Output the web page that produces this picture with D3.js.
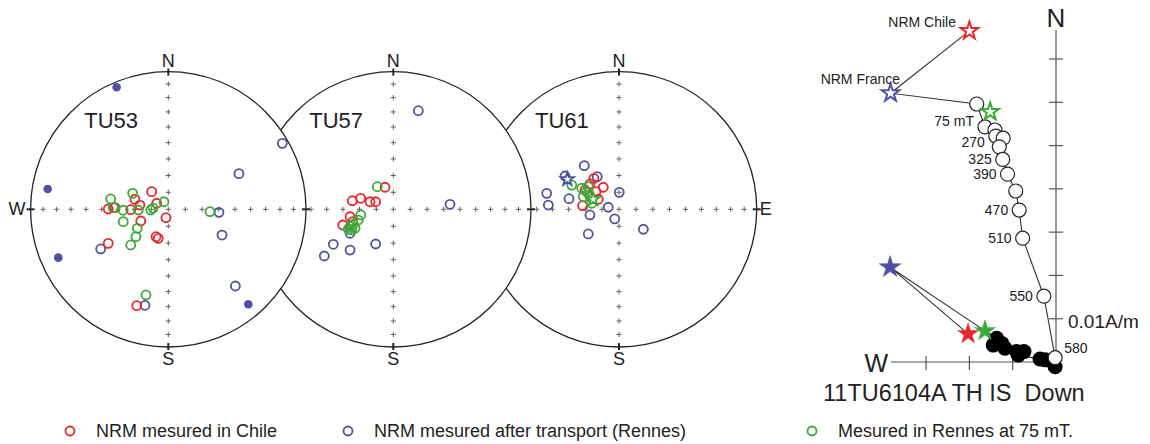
<!DOCTYPE html>
<html>
<head>
<meta charset="utf-8">
<script src="https://cdn.jsdelivr.net/npm/d3@7"></script>
<style>
body { margin: 0; background: #fff; }
svg { display: block; font-family: Arial, "Liberation Sans", sans-serif; }
</style>
</head>
<body>
<svg id="chart" width="1150" height="444"></svg>
<script>
// ---- stereonet data: equal-area projected positions, in units of the net radius (x = east, y = north)
const sites = ['TU53', 'TU57', 'TU61']

const chile53 = [[-0.436, 0.002], [-0.387, 0.012], [-0.273, -0.003], [-0.242, 0.073], [-0.206, 0.031],
  [-0.121, 0.128], [-0.084, 0.044], [-0.017, -0.061], [-0.200, -0.085], [-0.089, -0.199],
  [-0.073, -0.211], [-0.436, -0.247], [-0.229, -0.700]]
const rennes53 = [[0.828, 0.479], [0.513, 0.259], [0.368, -0.022], [0.390, -0.187], [-0.491, -0.288],
  [0.487, -0.557], [-0.169, -0.697]]
const rennes53Down = [[-0.375, 0.886], [-0.876, 0.147], [-0.799, -0.351], [0.581, -0.690]]
const at75mT53 = [[-0.418, 0.075], [-0.399, 0.012], [-0.327, -0.007], [-0.259, 0.116], [-0.218, -0.005],
  [-0.128, -0.005], [-0.111, 0.009], [-0.031, 0.055], [-0.327, -0.090], [-0.225, -0.138],
  [-0.235, -0.199], [-0.273, -0.259], [-0.162, -0.622], [0.303, -0.017]]

const chile57 = [[-0.060, 0.160], [-0.298, 0.062], [-0.237, 0.080], [-0.169, 0.055], [-0.128, 0.055],
  [-0.314, -0.054], [-0.367, -0.114], [-0.295, -0.090]]
const rennes57 = [[0.182, 0.716], [0.412, 0.036], [-0.436, -0.254], [-0.501, -0.339], [-0.314, -0.296],
  [-0.128, -0.252], [-0.314, -0.174]]
const at75mT57 = [[-0.116, 0.164], [-0.237, -0.041], [-0.254, -0.078], [-0.290, -0.107], [-0.327, -0.145],
  [-0.302, -0.150], [-0.278, -0.138], [-0.314, -0.126]]

const chile61 = [[-0.211, 0.184], [-0.114, 0.160], [-0.182, 0.225], [-0.264, 0.026], [-0.150, 0.073],
  [-0.247, 0.140], [-0.167, 0.128]]
const rennes61 = [[-0.252, 0.317], [-0.525, 0.116], [-0.513, 0.031], [-0.363, 0.077], [-0.158, 0.237],
  [0.002, 0.123], [-0.078, 0.015], [-0.211, -0.041], [-0.031, -0.070], [-0.223, -0.179],
  [0.177, -0.145], [-0.392, 0.242]]
const at75mT61 = [[-0.271, 0.153], [-0.235, 0.128], [-0.259, 0.092], [-0.211, 0.092], [-0.223, 0.164],
  [-0.343, 0.176], [-0.198, 0.044]]
// mean directions of specimen 11TU6104A shown as stars on TU61
const starRennes61 = [-0.375, 0.218]
const star75mT61 = [-0.187, 0.073]

// inclination rings marked by crosses on the axes
const incTicks = [10, 20, 30, 40, 50, 60, 70, 80, 90]

// ---- Zijderveld data (units of 0.01 A/m), x = W-E (negative = W), y = N / Up
const vertSteps = [[-1.83, 5.96], [-1.64, 5.43], [-1.41, 5.36], [-1.39, 5.22], [-1.22, 5.17], [-1.31, 4.97],
  [-1.23, 4.68], [-1.12, 4.34], [-0.93, 3.95], [-0.85, 3.51], [-0.77, 2.86], [-0.28, 1.52], [-0.02, 0.10]]
const stepLabels = ['', '75 mT', '', '270', '', '', '325', '390', '', '470', '510', '550', '580']
const horizSteps = [[-1.37, 0.55], [-1.25, 0.43], [-1.45, 0.39], [-1.18, 0.32], [-0.91, 0.24], [-0.74, 0.24],
  [-0.87, 0.16], [-0.37, 0.07], [-0.25, 0.05], [-0.06, -0.02], [-0.02, -0.11]]
const nrmChileV = [-2.00, 7.65]
const nrmFranceV = [-3.82, 6.21]
const at75mTV = [-1.52, 5.78]
const nrmFranceH = [-3.83, 2.19]
const nrmChileH = [-2.03, 0.65]
const at75mTH = [-1.64, 0.72]
const zTicksX = [-1, -2, -3]
const zTicksY = [1, 2, 3, 4, 5, 6, 7]

const legendItems = ['NRM mesured in Chile', 'NRM mesured after transport (Rennes)', 'Mesured in Rennes at 75 mT.']

const RED = '#e8262b', BLUE = '#51519f', GREEN = '#3aa935'

// vertical nudges (px) for step labels that sit crowded together
const labelNudge = { '75 mT': -6, '270': 6, '580': -10 }

const svg = d3.select('#chart')

const R = 137.7
const netCenters = [168.3, 393.3, 619]
const netCy = 209.3

const netData = [
  { chile: chile53, rennes: rennes53, down: rennes53Down, at75: at75mT53, stars: [] },
  { chile: chile57, rennes: rennes57, down: [], at75: at75mT57, stars: [] },
  { chile: chile61, rennes: rennes61, down: [], at75: at75mT61,
    stars: [[starRennes61, BLUE], [star75mT61, GREEN]] }
]

const eqArea = inc => Math.SQRT2 * Math.sin((90 - inc) / 2 * Math.PI / 180)

const drawNet = function (i) {
  const cx = netCenters[i]
  const x = d3.scaleLinear().domain([-1, 1]).range([cx - R, cx + R])
  const y = d3.scaleLinear().domain([-1, 1]).range([netCy + R, netCy - R])
  const g = svg.append('g')

  g.append('circle').attr('cx', cx).attr('cy', netCy).attr('r', R)
    .attr('fill', '#fff').attr('stroke', '#222').attr('stroke-width', 1.3)

  // crosses along both axes
  const crossPts = []
  incTicks.forEach(inc => {
    const r = eqArea(inc)
    if (r < 0.001) { crossPts.push([0, 0]); return }
    crossPts.push([0, r], [0, -r], [r, 0], [-r, 0])
  })
  const cs = 2.6
  g.append('g').selectAll('path').data(crossPts).join('path')
    .attr('d', d => `M${x(d[0]) - cs},${y(d[1])}h${2 * cs}M${x(d[0])},${y(d[1]) - cs}v${2 * cs}`)
    .attr('stroke', '#555').attr('stroke-width', 0.9)

  // cardinal ticks
  const tk = g.append('g').attr('stroke', '#222').attr('stroke-width', 2)
  tk.append('line').attr('x1', cx).attr('x2', cx).attr('y1', netCy - R - 3).attr('y2', netCy - R + 4)
  tk.append('line').attr('x1', cx).attr('x2', cx).attr('y1', netCy + R + 3).attr('y2', netCy + R - 4)
  tk.append('line').attr('y1', netCy).attr('y2', netCy).attr('x1', cx - R - 4).attr('x2', cx - R + 4)
  tk.append('line').attr('y1', netCy).attr('y2', netCy).attr('x1', cx + R + 4).attr('x2', cx + R - 4)

  g.append('text').attr('x', cx).attr('y', netCy - R - 5).attr('text-anchor', 'middle')
    .attr('font-size', 18).attr('fill', '#222').text('N')
  g.append('text').attr('x', cx).attr('y', netCy + R + 18).attr('text-anchor', 'middle')
    .attr('font-size', 18).attr('fill', '#222').text('S')
  if (i === 0) {
    g.append('text').attr('x', cx - R - 5).attr('y', netCy + 6).attr('text-anchor', 'end')
      .attr('font-size', 18).attr('fill', '#222').text('W')
  }
  if (i === 2) {
    g.append('text').attr('x', cx + R + 3).attr('y', netCy + 6)
      .attr('font-size', 18).attr('fill', '#222').text('E')
  }
  g.append('text').attr('x', cx - 84).attr('y', netCy - 81)
    .attr('font-size', 22).attr('fill', '#222').text(sites[i])

  const d = netData[i]
  const openDots = (arr, color) => {
    g.append('g').selectAll('circle').data(arr).join('circle')
      .attr('cx', p => x(p[0])).attr('cy', p => y(p[1])).attr('r', 4.5)
      .attr('fill', 'none').attr('stroke', color).attr('stroke-width', 1.8)
  }
  openDots(d.rennes, BLUE)
  g.append('g').selectAll('circle').data(d.down).join('circle')
    .attr('cx', p => x(p[0])).attr('cy', p => y(p[1])).attr('r', 4.3)
    .attr('fill', BLUE)
  openDots(d.chile, RED)
  openDots(d.at75, GREEN)

  d.stars.forEach(([p, color]) => {
    g.append('path').attr('d', d3.symbol(d3.symbolStar, 55)())
      .attr('transform', `translate(${x(p[0])},${y(p[1])})`)
      .attr('fill', '#fff').attr('stroke', color).attr('stroke-width', 1.8)
  })
}

// right-hand nets first so the left ones overlap them
drawNet(2)
drawNet(1)
drawNet(0)

// ---- Zijderveld diagram
const zx = d3.scaleLinear().domain([-3.81, 0]).range([891, 1056])
const zy = d3.scaleLinear().domain([0, 7.67]).range([362, 30])
const zg = svg.append('g')

zg.append('line').attr('x1', zx(0)).attr('x2', zx(0)).attr('y1', zy(0)).attr('y2', zy(7.67))
  .attr('stroke', '#555').attr('stroke-width', 1.2)
zg.append('line').attr('x1', zx(-3.81)).attr('x2', zx(0)).attr('y1', zy(0)).attr('y2', zy(0))
  .attr('stroke', '#555').attr('stroke-width', 1.2)
zg.append('g').selectAll('line').data(zTicksY).join('line')
  .attr('x1', zx(0) - 7).attr('x2', zx(0) + 7).attr('y1', d => zy(d)).attr('y2', d => zy(d))
  .attr('stroke', '#555').attr('stroke-width', 1.2)
zg.append('g').selectAll('line').data(zTicksX).join('line')
  .attr('y1', zy(0) - 6).attr('y2', zy(0) + 8).attr('x1', d => zx(d)).attr('x2', d => zx(d))
  .attr('stroke', '#555').attr('stroke-width', 1.2)

zg.append('text').attr('x', zx(0)).attr('y', 27).attr('text-anchor', 'middle')
  .attr('font-size', 26).attr('fill', '#222').text('N')
zg.append('text').attr('x', 888).attr('y', 372).attr('text-anchor', 'end')
  .attr('font-size', 25).attr('fill', '#222').text('W')
zg.append('text').attr('x', 1068).attr('y', 328)
  .attr('font-size', 19).attr('fill', '#222').text('0.01A/m')
zg.append('text').attr('x', 823).attr('y', 401).attr('xml:space', 'preserve')
  .attr('font-size', 23.5).attr('fill', '#222').text('11TU6104A TH IS  Down')

const line = d3.line().x(d => zx(d[0])).y(d => zy(d[1]))
zg.append('path').attr('d', line([nrmChileV, nrmFranceV].concat(vertSteps)))
  .attr('fill', 'none').attr('stroke', '#333').attr('stroke-width', 1.1)
zg.append('path').attr('d', line([nrmChileH, nrmFranceH, at75mTH]))
  .attr('fill', 'none').attr('stroke', '#333').attr('stroke-width', 1.1)
zg.append('path').attr('d', line([at75mTH].concat(horizSteps)))
  .attr('fill', 'none').attr('stroke', '#111').attr('stroke-width', 1.1)

zg.append('g').selectAll('circle').data(horizSteps).join('circle')
  .attr('cx', d => zx(d[0])).attr('cy', d => zy(d[1])).attr('r', 7.5).attr('fill', '#000')
zg.append('g').selectAll('circle').data(vertSteps).join('circle')
  .attr('cx', d => zx(d[0])).attr('cy', d => zy(d[1])).attr('r', 7)
  .attr('fill', '#fff').attr('stroke', '#222').attr('stroke-width', 1.2)

const star = (p, color, filled, size) => {
  zg.append('path').attr('d', d3.symbol(d3.symbolStar, size)())
    .attr('transform', `translate(${zx(p[0])},${zy(p[1])})`)
    .attr('fill', filled ? color : '#fff').attr('stroke', color).attr('stroke-width', filled ? 0.5 : 2)
}
star(nrmChileV, RED, false, 95)
star(nrmFranceV, BLUE, false, 95)
star(at75mTV, GREEN, false, 95)
star(nrmFranceH, BLUE, true, 150)
star(nrmChileH, RED, true, 135)
star(at75mTH, GREEN, true, 135)

zg.append('g').selectAll('text').data(vertSteps.map((d, i) => [d, stepLabels[i]]).filter(d => d[1])).join('text')
  .attr('x', d => d[1] === '580' ? zx(d[0][0]) + 9 : zx(d[0][0]) - 11)
  .attr('y', d => zy(d[0][1]) + 5 + (labelNudge[d[1]] || 0))
  .attr('text-anchor', d => d[1] === '580' ? 'start' : 'end')
  .attr('font-size', 14).attr('fill', '#222').text(d => d[1])

zg.append('text').attr('x', 956).attr('y', 27).attr('text-anchor', 'end')
  .attr('font-size', 14).attr('fill', '#222').text('NRM Chile')
zg.append('text').attr('x', 900).attr('y', 84).attr('text-anchor', 'end')
  .attr('font-size', 14).attr('fill', '#222').text('NRM France')

// ---- legend
const legendX = [70, 348, 812]
const legendColors = [RED, BLUE, GREEN]
const lg = svg.append('g').selectAll('g').data(legendItems).join('g')
  .attr('transform', (d, i) => `translate(${legendX[i]},431)`)
lg.append('circle').attr('r', 4.5).attr('fill', 'none')
  .attr('stroke', (d, i) => legendColors[i]).attr('stroke-width', 1.8)
lg.append('text').attr('x', 26).attr('y', 6).attr('font-size', 18).attr('fill', '#222').text(d => d)
</script>
</body>
</html>
